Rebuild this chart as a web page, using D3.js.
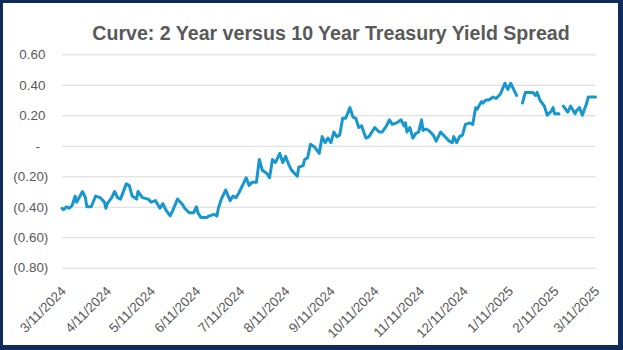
<!DOCTYPE html>
<html><head><meta charset="utf-8">
<script src="https://cdn.jsdelivr.net/npm/d3@7"></script>
<style>html,body{margin:0;padding:0;background:#fff;} svg{display:block;}</style>
</head><body>
<svg id="chart" width="623" height="350"></svg>
<script>
const title = "Curve: 2 Year versus 10 Year Treasury Yield Spread";

const dates = [
"2024-03-11","2024-03-12","2024-03-14","2024-03-16","2024-03-18","2024-03-20","2024-03-21","2024-03-25","2024-03-27","2024-03-28","2024-03-31",
"2024-04-03","2024-04-06","2024-04-09","2024-04-10","2024-04-11","2024-04-14","2024-04-16","2024-04-18","2024-04-20","2024-04-24","2024-04-26","2024-04-28",
"2024-05-01","2024-05-02","2024-05-05","2024-05-09","2024-05-11","2024-05-14","2024-05-17","2024-05-19","2024-05-21","2024-05-24","2024-05-26","2024-05-29",
"2024-06-01","2024-06-03","2024-06-06","2024-06-09","2024-06-11","2024-06-12","2024-06-14","2024-06-18","2024-06-20","2024-06-23","2024-06-25","2024-06-26","2024-06-28",
"2024-07-01","2024-07-04","2024-07-06","2024-07-08","2024-07-10","2024-07-13","2024-07-15","2024-07-17","2024-07-19","2024-07-22","2024-07-24","2024-07-26","2024-07-29","2024-07-31",
"2024-08-02","2024-08-04","2024-08-07","2024-08-09","2024-08-11","2024-08-13","2024-08-15","2024-08-19","2024-08-20","2024-08-23","2024-08-24","2024-08-26","2024-08-28","2024-08-31",
"2024-09-03","2024-09-05","2024-09-07","2024-09-09","2024-09-11","2024-09-13","2024-09-15","2024-09-17","2024-09-19","2024-09-21","2024-09-24","2024-09-26","2024-09-28","2024-09-30",
"2024-10-02","2024-10-05","2024-10-07","2024-10-11","2024-10-14","2024-10-16","2024-10-19","2024-10-21","2024-10-23","2024-10-26","2024-10-29","2024-10-31",
"2024-11-01","2024-11-02","2024-11-04","2024-11-06","2024-11-08","2024-11-10","2024-11-12","2024-11-13","2024-11-15","2024-11-17","2024-11-20","2024-11-22","2024-11-25","2024-11-28",
"2024-12-01","2024-12-03","2024-12-04","2024-12-06","2024-12-08","2024-12-10","2024-12-12","2024-12-15","2024-12-17","2024-12-19","2024-12-20","2024-12-23","2024-12-24","2024-12-26","2024-12-28","2024-12-31",
"2025-01-02","2025-01-05","2025-01-08","2025-01-10","2025-01-12","2025-01-14","2025-01-16","2025-01-17","2025-01-20","2025-01-22","2025-01-25","2025-01-27","2025-01-29","2025-01-30",
"2025-02-01","2025-02-04","2025-02-06","2025-02-09","2025-02-10","2025-02-11","2025-02-14","2025-02-15","2025-02-17","2025-02-20","2025-02-22","2025-02-25","2025-02-26","2025-02-28",
"2025-03-02","2025-03-05","2025-03-06","2025-03-11"
];

const spread = [
-0.41,-0.42,-0.40,-0.41,-0.39,-0.33,-0.37,-0.30,-0.34,-0.40,-0.40,
-0.33,-0.34,-0.37,-0.41,-0.38,-0.34,-0.30,-0.34,-0.35,-0.25,-0.26,-0.33,
-0.35,-0.30,-0.34,-0.35,-0.37,-0.36,-0.41,-0.38,-0.42,-0.46,-0.42,-0.35,
-0.38,-0.41,-0.44,-0.44,-0.40,-0.44,-0.47,-0.47,-0.46,-0.45,-0.46,-0.41,-0.35,
-0.29,-0.36,-0.33,-0.34,-0.31,-0.25,-0.21,-0.26,-0.24,-0.24,-0.09,-0.16,-0.18,-0.21,
-0.09,-0.11,-0.05,-0.11,-0.07,-0.12,-0.16,-0.20,-0.14,-0.13,-0.09,-0.08,0.01,-0.01,
-0.05,0.06,0.02,0.05,0.02,0.09,0.06,0.07,0.18,0.18,0.25,0.19,0.18,0.12,
0.13,0.05,0.06,0.12,0.09,0.09,0.13,0.17,0.14,0.15,0.17,0.13,
0.15,0.09,0.12,0.05,0.08,0.09,0.17,0.10,0.11,0.10,0.07,0.03,0.09,0.06,
0.03,0.02,0.06,0.02,0.06,0.07,0.14,0.15,0.14,0.25,0.24,0.29,0.28,0.30,0.30,0.32,
0.31,0.34,0.41,0.37,0.41,0.37,0.33,null,0.28,0.35,0.35,0.35,0.33,0.35,
0.30,0.26,0.20,0.23,0.25,0.21,0.21,null,0.26,0.22,0.26,0.21,0.23,0.25,
0.20,0.28,0.32,0.32
];

const yTicks = [0.6, 0.4, 0.2, 0, -0.2, -0.4, -0.6, -0.8];
const xTickDates = ["2024-03-11","2024-04-11","2024-05-11","2024-06-11","2024-07-11","2024-08-11","2024-09-11",
  "2024-10-11","2024-11-11","2024-12-11","2025-01-11","2025-02-11","2025-03-11"];

const W = 623, H = 350;
const FONT = "'Liberation Sans', Arial, sans-serif";
const TXT = "#595959";
const svg = d3.select("#chart");

// frame
svg.append("rect").attr("width", W).attr("height", H).attr("fill", "#0f2b5b");
svg.append("rect").attr("x", 3).attr("y", 3).attr("width", 615).attr("height", 342).attr("fill", "#fff");

const parse = d3.timeParse("%Y-%m-%d");
const data = dates.map((d, i) => ({ date: parse(d), v: spread[i] }));

const pLeft = 62, pRight = 595.5, pTop = 54.3, pBottom = 267.7;
const x = d3.scaleTime().domain([parse(xTickDates[0]), parse(xTickDates[xTickDates.length - 1])]).range([pLeft, pRight]);
const y = d3.scaleLinear().domain([-0.8, 0.6]).range([pBottom, pTop]);

// title
svg.append("text").attr("x", 331).attr("y", 40).attr("text-anchor", "middle")
  .attr("font-family", FONT).attr("font-size", 19.6).attr("font-weight", "bold").attr("fill", TXT)
  .text(title);

// y axis with gridlines
const fmt2 = d3.format(".2f");
const yFmt = v => Math.abs(v) < 1e-9 ? "-" : (v < 0 ? "(" + fmt2(-v) + ")" : fmt2(v));
const yAxis = svg.append("g").attr("transform", `translate(${pLeft},0)`)
  .call(d3.axisLeft(y).tickValues(yTicks).tickFormat(yFmt).tickSize(-(pRight - pLeft)));
yAxis.select(".domain").remove();
yAxis.selectAll(".tick line").attr("stroke", "#d9d9d9").attr("stroke-width", 1);
yAxis.selectAll(".tick text")
  .attr("font-family", FONT).attr("font-size", 13.4).attr("fill", TXT)
  .attr("x", d => Math.abs(d) < 1e-9 ? -24.3 : (d < 0 ? -13.7 : -16.6))
  .attr("text-anchor", d => Math.abs(d) < 1e-9 ? "middle" : "end");

// x axis labels
const xAxis = svg.append("g").attr("transform", `translate(0,${pBottom})`)
  .call(d3.axisBottom(x).tickValues(xTickDates.map(parse)).tickFormat(d3.timeFormat("%-m/%-d/%Y")).tickSize(0));
xAxis.select(".domain").remove();
xAxis.selectAll(".tick text")
  .attr("font-family", FONT).attr("font-size", 13.4).attr("fill", TXT)
  .attr("x", 0).attr("y", 0).attr("dy", "0.35em")
  .attr("transform", "translate(1,21) rotate(-45)")
  .attr("text-anchor", "end");

// line
const line = d3.line().defined(d => d.v !== null).x(d => x(d.date)).y(d => y(d.v));
svg.append("path").datum(data).attr("d", line)
  .attr("fill", "none").attr("stroke", "#1797cd").attr("stroke-width", 3)
  .attr("stroke-linejoin", "round").attr("stroke-linecap", "round");
</script>
</body></html>
